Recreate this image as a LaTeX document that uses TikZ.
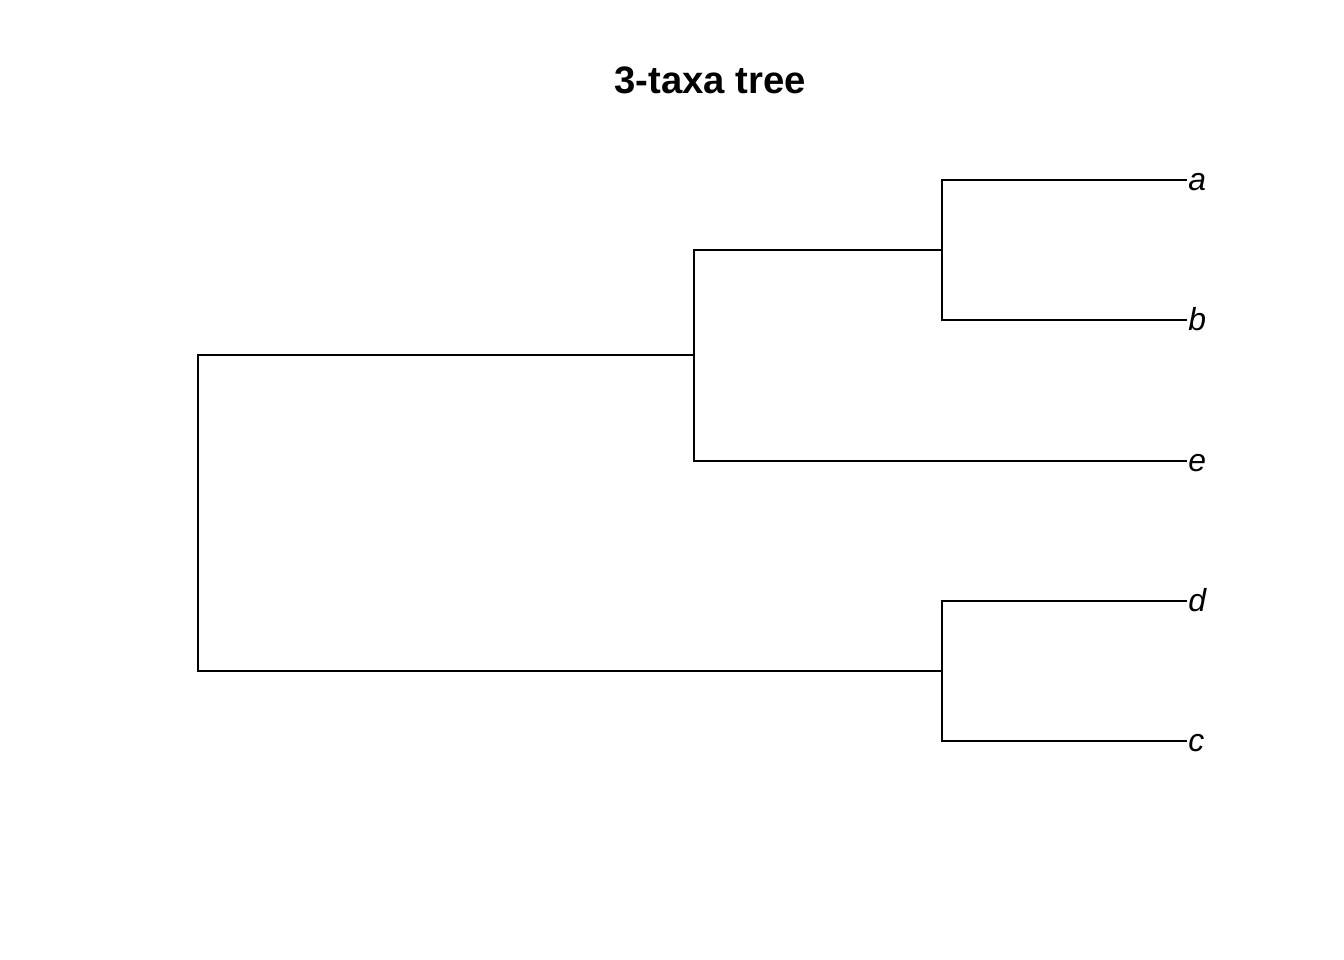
\documentclass[tikz,border=0pt]{standalone}
\usepackage{fontspec}
\setmainfont{Liberation Sans}
\usetikzlibrary{positioning}

\begin{document}
\begin{tikzpicture}[
        x=0.01764cm, y=-0.01764cm,
        branch/.style={line width=1pt},
        tiplabel/.style={anchor=base west, inner sep=0pt, font=\fontsize{16}{19}\selectfont\itshape}
    ]
    \useasboundingbox (0,0) rectangle (1344,960);
    \node (title) at (710,80) {\fontsize{19.2}{23}\selectfont\bfseries 3-taxa tree};

    % internal nodes
    \coordinate (root) at (198,513);
    \coordinate (nabe) at (694,355);
    \coordinate (nab) at (942,250);
    \coordinate (ndc) at (942,671);
    % tips
    \coordinate (ta) at (1187,180);
    \coordinate (tb) at (1187,320);
    \coordinate (te) at (1187,461);
    \coordinate (td) at (1187,601);
    \coordinate (tc) at (1187,741);

    \node[tiplabel] (a) at ([shift={(1,10)}]ta) {a};
    \node[tiplabel] (b) at ([shift={(1,10)}]tb) {b};
    \node[tiplabel] (e) at ([shift={(1,10)}]te) {e};
    \node[tiplabel] (d) at ([shift={(1,10)}]td) {d};
    \node[tiplabel] (c) at ([shift={(1,10)}]tc) {c};

    \draw[branch] (root) |- (nabe);
    \draw[branch] (root) |- (ndc);
    \draw[branch] (nabe) |- (nab);
    \draw[branch] (nabe) |- (te);
    \draw[branch] (nab) |- (ta);
    \draw[branch] (nab) |- (tb);
    \draw[branch] (ndc) |- (td);
    \draw[branch] (ndc) |- (tc);
\end{tikzpicture}
\end{document}
